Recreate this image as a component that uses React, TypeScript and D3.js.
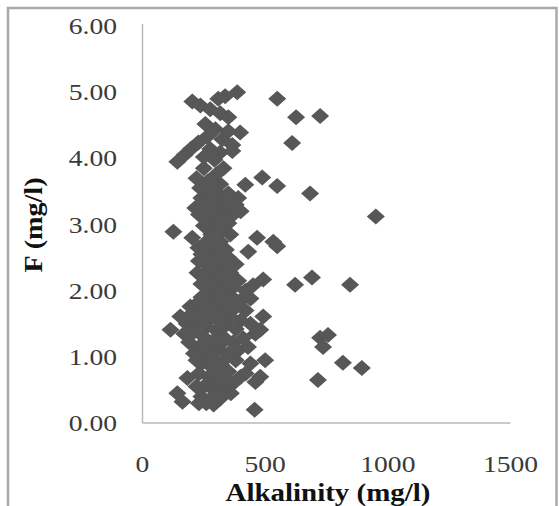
import React from "react";
import * as d3 from "d3";

const alkalinity = [
  203, 236, 276, 317, 350, 309, 337, 386, 256, 297, 350, 398, 549, 626, 724,
  264, 325, 366, 142, 171, 199, 228, 276, 317, 366, 293, 610, 250,
  220, 301, 260, 317, 419, 488, 549, 683, 951, 350, 390, 240, 280, 320, 260, 300,
  340, 370, 230, 270, 310, 350, 250, 290, 330, 380, 215, 285, 330, 250, 400,
  126, 203, 228, 276, 317, 358, 467, 533, 431, 305, 330, 224, 276, 317, 358, 492,
  451, 549, 622, 691, 846, 240, 350, 290, 260, 380, 300, 340, 260, 390, 420, 240,
  195, 154, 114, 492, 480, 240, 280, 320, 360, 400, 440, 220, 260, 300, 340, 380,
  420, 200, 240, 280, 320, 360, 400, 440, 180, 220, 260, 300, 340, 380, 460, 170,
  210, 250, 290, 330, 370, 410, 190, 230, 270, 310, 350, 390, 430, 210, 250, 290,
  724, 756, 736, 817, 894, 715, 457, 142, 163, 183, 240, 280, 320, 380, 440, 500,
  480, 420, 460, 230, 270, 310, 350, 250, 290, 330, 240, 280, 320, 260, 300, 370, 400,
  260, 300, 280, 320, 240, 345, 265, 300, 235,
  280, 250, 300, 340, 270, 310, 230, 290, 330, 250, 280, 310, 370, 350,
  300, 260, 350, 230, 270, 320, 290, 250, 320, 280, 340, 220, 270, 300, 340, 220,
  290, 360, 230,
];

const fluoride = [
  4.86, 4.80, 4.74, 4.68, 4.62, 4.90, 4.94, 5.00, 4.52, 4.44, 4.41, 4.39, 4.90, 4.62, 4.64,
  4.33, 4.29, 4.20, 3.95, 4.05, 4.15, 4.24, 4.14, 4.09, 4.11, 3.98, 4.23, 4.02,
  3.70, 3.76, 3.55, 3.61, 3.60, 3.71, 3.58, 3.47, 3.12, 3.47, 3.40, 3.40, 3.45, 3.35, 3.28, 3.22,
  3.25, 3.15, 3.15, 3.10, 3.05, 3.02, 2.98, 2.95, 2.92, 3.30, 3.25, 3.62, 3.85, 3.85, 3.20,
  2.89, 2.80, 2.65, 2.79, 2.74, 2.85, 2.80, 2.74, 2.59, 2.48, 2.38, 2.27, 2.21, 2.17, 2.27, 2.17,
  2.08, 2.67, 2.09, 2.20, 2.09, 2.55, 2.50, 2.60, 2.40, 2.40, 2.30, 2.10, 2.05, 2.15, 2.00, 2.10,
  1.76, 1.61, 1.41, 1.61, 1.41, 1.90, 1.95, 1.98, 1.92, 1.85, 1.88, 1.80, 1.82, 1.78, 1.82, 1.75,
  1.70, 1.65, 1.68, 1.62, 1.66, 1.60, 1.55, 1.50, 1.50, 1.52, 1.45, 1.40, 1.48, 1.42, 1.35, 1.35,
  1.38, 1.30, 1.25, 1.30, 1.22, 1.28, 1.22, 1.15, 1.10, 1.12, 1.05, 1.10, 1.15, 1.05, 1.00, 0.95,
  1.29, 1.33, 1.15, 0.91, 0.83, 0.65, 0.20, 0.45, 0.32, 0.68, 0.90, 0.85, 0.88, 0.95, 0.90, 0.95,
  0.70, 0.75, 0.62, 0.75, 0.70, 0.72, 0.78, 0.55, 0.50, 0.55, 0.40, 0.35, 0.38, 0.30, 0.45, 0.60, 0.70,
  3.00, 3.35, 3.20, 3.10, 3.25, 3.40, 3.65, 3.50, 3.55,
  2.85, 2.70, 2.70, 2.62, 2.50, 2.55, 2.45, 2.38, 2.25, 2.25, 2.12, 2.02, 2.05, 2.35,
  1.90, 1.95, 1.70, 1.60, 1.55, 1.52, 1.70, 1.18, 1.20, 1.05, 0.98, 0.95, 0.60, 0.60, 0.68, 0.55,
  0.28, 0.45, 0.30,
];

const xTicks = [0, 500, 1000, 1500];
const yTicks = [0, 1, 2, 3, 4, 5, 6];
const xTitle = "Alkalinity (mg/l)";
const yTitle = "F (mg/l)";

export default function App() {
  const W = 559;
  const H = 506;
  const x = d3.scaleLinear().domain([0, 1500]).range([142.5, 510.5]);
  const y = d3.scaleLinear().domain([0, 6]).range([423, 26]);
  const hw = 9;
  const hh = 8;
  const diamond = (cx: number, cy: number) => {
    const p = d3.path();
    p.moveTo(cx, cy - hh);
    p.lineTo(cx + hw, cy);
    p.lineTo(cx, cy + hh);
    p.lineTo(cx - hw, cy);
    p.closePath();
    return p.toString();
  };
  const font = "'Liberation Serif', 'Times New Roman', serif";
  const points = alkalinity.map((a, i) => [a, fluoride[i]]);

  return (
    <div style={{ position: "absolute", left: 0, top: 0 }}>
      <svg width={W} height={H} style={{ display: "block", background: "#fff" }}>
        <rect x={0} y={0} width={W} height={H} fill="#fff" />
        <path d={`M8,${H + 5}V8H556.5V${H + 5}`} fill="none" stroke="#a9a9a9" strokeWidth={2.5} />
        <line x1={x(0)} x2={x(0)} y1={y(6) - 2} y2={y(0)} stroke="#b8b8b8" strokeWidth={1.5} />
        <line x1={x(0)} x2={x(1500)} y1={y(0)} y2={y(0)} stroke="#b8b8b8" strokeWidth={1.5} />
        {points.map(([a, f], i) => (
          <path key={i} d={diamond(x(a), y(f))} fill="#575757" />
        ))}
        {yTicks.map((t) => (
          <text
            key={t}
            transform={`translate(117,${y(t)}) scale(1.2,1)`}
            textAnchor="end"
            dy="0.35em"
            fontFamily={font}
            fontSize={23}
            fill="#3a3a3a"
          >
            {d3.format(".2f")(t)}
          </text>
        ))}
        {xTicks.map((t) => (
          <text
            key={t}
            transform={`translate(${x(t)},464) scale(1.2,1)`}
            textAnchor="middle"
            dy="0.35em"
            fontFamily={font}
            fontSize={23}
            fill="#3a3a3a"
          >
            {t}
          </text>
        ))}
        <text
          x={328}
          y={501}
          textAnchor="middle"
          fontFamily={font}
          fontWeight="bold"
          fontSize={25}
          textLength={205}
          lengthAdjust="spacingAndGlyphs"
          fill="#111"
        >
          {xTitle}
        </text>
        <text
          transform="translate(33,225) rotate(-90)"
          textAnchor="middle"
          dy="0.35em"
          fontFamily={font}
          fontWeight="bold"
          fontSize={25}
          textLength={95}
          lengthAdjust="spacingAndGlyphs"
          fill="#111"
        >
          {yTitle}
        </text>
      </svg>
    </div>
  );
}
